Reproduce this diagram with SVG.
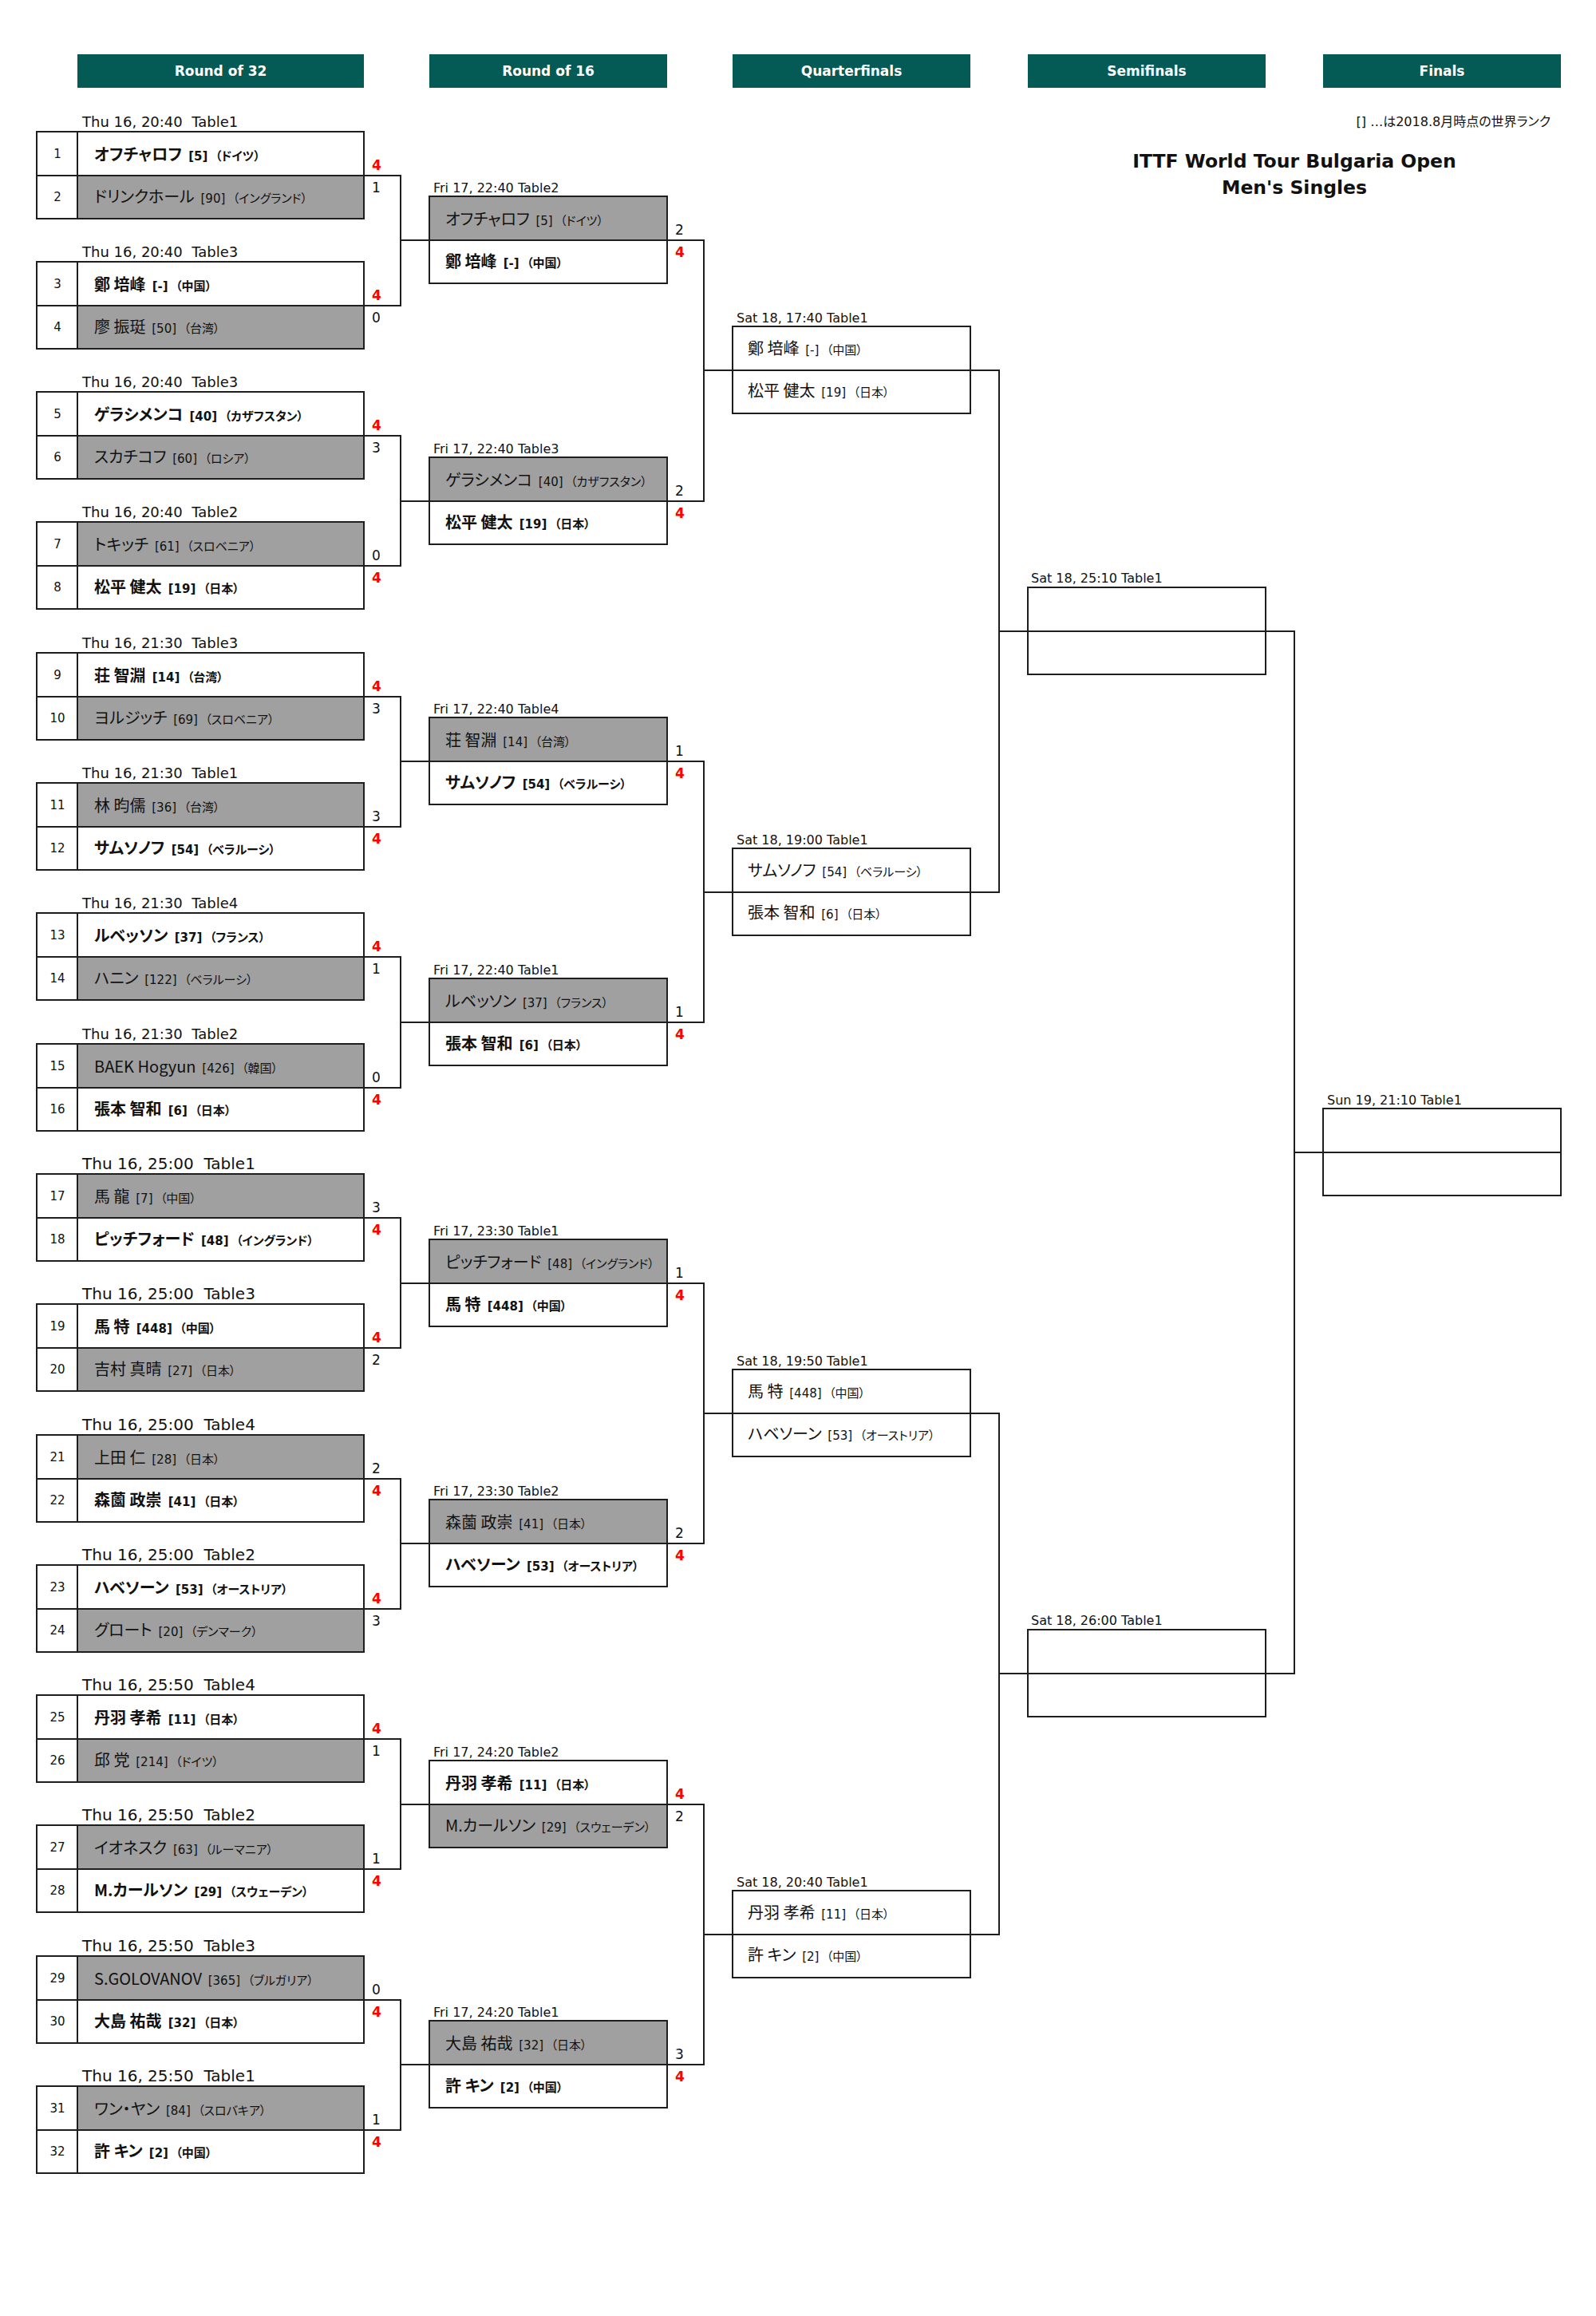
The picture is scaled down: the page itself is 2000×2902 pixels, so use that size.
<svg xmlns="http://www.w3.org/2000/svg" width="2000" height="2902" viewBox="0 0 2000 2902">
<style>
text{fill:#111}
.hd{fill:#045a55}
.ht{font-family:"DejaVu Sans",Verdana,sans-serif;font-weight:bold;font-size:17px;fill:#fff;text-anchor:middle}
.bx{fill:none;stroke:#1e1e1e;stroke-width:2}
.ls{fill:#a0a0a0}
.cn{fill:none;stroke:#1e1e1e;stroke-width:2}
.dt{font-family:"DejaVu Sans",Verdana,sans-serif;font-size:16px}
.d18{font-size:18px}
.d20{font-size:20px}
.no{font-family:"DejaVu Sans",Verdana,sans-serif;font-size:15px;text-anchor:middle}
.pl{font-family:"Noto Sans CJK JP",sans-serif;font-size:20px;font-feature-settings:"palt"}
.rk{font-family:"DejaVu Sans","Noto Sans CJK JP",sans-serif;font-size:15px}
.ct{font-family:"Noto Sans CJK JP",sans-serif;font-size:15px;font-feature-settings:"palt"}
.w{font-weight:bold}
.sc{font-family:"DejaVu Sans",Verdana,sans-serif;font-size:17px}
.sw{fill:#f00;font-weight:bold}
.tt{font-family:"DejaVu Sans",Verdana,sans-serif;font-weight:bold;font-size:23.5px;text-anchor:middle}
.nt{font-family:"DejaVu Sans","Noto Sans CJK JP",sans-serif;font-size:16px;text-anchor:end;font-feature-settings:"palt"}
</style>
<rect width="2000" height="2902" fill="#fff"/>

<g id="headers">
<rect class="hd" x="97" y="68" width="359" height="42"/><text class="ht" x="276.5" y="95">Round of 32</text>
<rect class="hd" x="538" y="68" width="298" height="42"/><text class="ht" x="687" y="95">Round of 16</text>
<rect class="hd" x="918" y="68" width="298" height="42"/><text class="ht" x="1067" y="95">Quarterfinals</text>
<rect class="hd" x="1288" y="68" width="298" height="42"/><text class="ht" x="1437" y="95">Semifinals</text>
<rect class="hd" x="1658" y="68" width="298" height="42"/><text class="ht" x="1807" y="95">Finals</text>
</g>
<g id="title">
<text class="nt" x="1943" y="158">[] …は2018.8月時点の世界ランク</text>
<text class="tt" x="1622" y="210">ITTF World Tour Bulgaria Open</text>
<text class="tt" x="1622" y="243">Men's Singles</text>
</g>

<g id="connectors">
<path class="cn" d="M456 220H502V383H456M502 301H538M456 546H502V709H456M502 628H538M456 873H502V1036H456M502 954H538M456 1199H502V1363H456M502 1281H538M456 1526H502V1689H456M502 1608H538M456 1853H502V2016H456M502 1934H538M456 2179H502V2342H456M502 2261H538M456 2506H502V2669H456M502 2587H538"/>
<path class="cn" d="M836 301H882V628H836M882 464H918M836 954H882V1281H836M882 1118H918M836 1608H882V1934H836M882 1771H918M836 2261H882V2587H836M882 2424H918"/>
<path class="cn" d="M1216 464H1252V1118H1216M1252 791H1288M1216 1771H1252V2424H1216M1252 2097H1288"/>
<path class="cn" d="M1586 791H1622V2097H1586M1622 1444H1658"/>
</g>

<!-- Round of 32 -->
<g id="r32-m1">
<text class="dt d18" x="103" y="159" xml:space="preserve">Thu 16, 20:40  Table1</text>
<rect class="ls" x="97" y="220" width="359" height="54"/>
<path class="bx" d="M46 165h410v109h-410zM46 220h410M97 165v109"/>
<text class="no" x="72" y="198">1</text><text class="no" x="72" y="252">2</text>
<text class="pl w" x="118" y="201">オフチャロフ<tspan class="rk" dx="3"> [5]</tspan><tspan class="ct" dx="6"> （ドイツ）</tspan></text>
<text class="pl" x="118" y="254">ドリンクホール<tspan class="rk" dx="3"> [90]</tspan><tspan class="ct" dx="6"> （イングランド）</tspan></text>
<text class="sc sw" x="466" y="213">4</text><text class="sc" x="466" y="241">1</text>
</g>
<g id="r32-m2">
<text class="dt d18" x="103" y="322" xml:space="preserve">Thu 16, 20:40  Table3</text>
<rect class="ls" x="97" y="383" width="359" height="54"/>
<path class="bx" d="M46 328h410v109h-410zM46 383h410M97 328v109"/>
<text class="no" x="72" y="361">3</text><text class="no" x="72" y="415">4</text>
<text class="pl w" x="118" y="364">鄭 培峰<tspan class="rk" dx="3"> [-]</tspan><tspan class="ct" dx="6"> （中国）</tspan></text>
<text class="pl" x="118" y="417">廖 振珽<tspan class="rk" dx="3"> [50]</tspan><tspan class="ct" dx="6"> （台湾）</tspan></text>
<text class="sc sw" x="466" y="376">4</text><text class="sc" x="466" y="404">0</text>
</g>
<g id="r32-m3">
<text class="dt d18" x="103" y="485" xml:space="preserve">Thu 16, 20:40  Table3</text>
<rect class="ls" x="97" y="546" width="359" height="54"/>
<path class="bx" d="M46 491h410v109h-410zM46 546h410M97 491v109"/>
<text class="no" x="72" y="524">5</text><text class="no" x="72" y="578">6</text>
<text class="pl w" x="118" y="527">ゲラシメンコ<tspan class="rk" dx="3"> [40]</tspan><tspan class="ct" dx="6"> （カザフスタン）</tspan></text>
<text class="pl" x="118" y="580">スカチコフ<tspan class="rk" dx="3"> [60]</tspan><tspan class="ct" dx="6"> （ロシア）</tspan></text>
<text class="sc sw" x="466" y="539">4</text><text class="sc" x="466" y="567">3</text>
</g>
<g id="r32-m4">
<text class="dt d18" x="103" y="648" xml:space="preserve">Thu 16, 20:40  Table2</text>
<rect class="ls" x="97" y="654" width="359" height="55"/>
<path class="bx" d="M46 654h410v109h-410zM46 709h410M97 654v109"/>
<text class="no" x="72" y="687">7</text><text class="no" x="72" y="741">8</text>
<text class="pl" x="118" y="690">トキッチ<tspan class="rk" dx="3"> [61]</tspan><tspan class="ct" dx="6"> （スロベニア）</tspan></text>
<text class="pl w" x="118" y="743">松平 健太<tspan class="rk" dx="3"> [19]</tspan><tspan class="ct" dx="6"> （日本）</tspan></text>
<text class="sc" x="466" y="702">0</text><text class="sc sw" x="466" y="730">4</text>
</g>
<g id="r32-m5">
<text class="dt d18" x="103" y="812" xml:space="preserve">Thu 16, 21:30  Table3</text>
<rect class="ls" x="97" y="873" width="359" height="54"/>
<path class="bx" d="M46 818h410v109h-410zM46 873h410M97 818v109"/>
<text class="no" x="72" y="851">9</text><text class="no" x="72" y="905">10</text>
<text class="pl w" x="118" y="854">荘 智淵<tspan class="rk" dx="3"> [14]</tspan><tspan class="ct" dx="6"> （台湾）</tspan></text>
<text class="pl" x="118" y="907">ヨルジッチ<tspan class="rk" dx="3"> [69]</tspan><tspan class="ct" dx="6"> （スロベニア）</tspan></text>
<text class="sc sw" x="466" y="866">4</text><text class="sc" x="466" y="894">3</text>
</g>
<g id="r32-m6">
<text class="dt d18" x="103" y="975" xml:space="preserve">Thu 16, 21:30  Table1</text>
<rect class="ls" x="97" y="981" width="359" height="55"/>
<path class="bx" d="M46 981h410v109h-410zM46 1036h410M97 981v109"/>
<text class="no" x="72" y="1014">11</text><text class="no" x="72" y="1068">12</text>
<text class="pl" x="118" y="1017">林 昀儒<tspan class="rk" dx="3"> [36]</tspan><tspan class="ct" dx="6"> （台湾）</tspan></text>
<text class="pl w" x="118" y="1070">サムソノフ<tspan class="rk" dx="3"> [54]</tspan><tspan class="ct" dx="6"> （ベラルーシ）</tspan></text>
<text class="sc" x="466" y="1029">3</text><text class="sc sw" x="466" y="1057">4</text>
</g>
<g id="r32-m7">
<text class="dt d18" x="103" y="1138" xml:space="preserve">Thu 16, 21:30  Table4</text>
<rect class="ls" x="97" y="1199" width="359" height="54"/>
<path class="bx" d="M46 1144h410v109h-410zM46 1199h410M97 1144v109"/>
<text class="no" x="72" y="1177">13</text><text class="no" x="72" y="1231">14</text>
<text class="pl w" x="118" y="1180">ルベッソン<tspan class="rk" dx="3"> [37]</tspan><tspan class="ct" dx="6"> （フランス）</tspan></text>
<text class="pl" x="118" y="1233">ハニン<tspan class="rk" dx="3"> [122]</tspan><tspan class="ct" dx="6"> （ベラルーシ）</tspan></text>
<text class="sc sw" x="466" y="1192">4</text><text class="sc" x="466" y="1220">1</text>
</g>
<g id="r32-m8">
<text class="dt d18" x="103" y="1302" xml:space="preserve">Thu 16, 21:30  Table2</text>
<rect class="ls" x="97" y="1308" width="359" height="55"/>
<path class="bx" d="M46 1308h410v109h-410zM46 1363h410M97 1308v109"/>
<text class="no" x="72" y="1341">15</text><text class="no" x="72" y="1395">16</text>
<text class="pl" x="118" y="1344">BAEK Hogyun<tspan class="rk" dx="3"> [426]</tspan><tspan class="ct" dx="6"> （韓国）</tspan></text>
<text class="pl w" x="118" y="1397">張本 智和<tspan class="rk" dx="3"> [6]</tspan><tspan class="ct" dx="6"> （日本）</tspan></text>
<text class="sc" x="466" y="1356">0</text><text class="sc sw" x="466" y="1384">4</text>
</g>
<g id="r32-m9">
<text class="dt d20" x="103" y="1465" xml:space="preserve">Thu 16, 25:00  Table1</text>
<rect class="ls" x="97" y="1471" width="359" height="55"/>
<path class="bx" d="M46 1471h410v109h-410zM46 1526h410M97 1471v109"/>
<text class="no" x="72" y="1504">17</text><text class="no" x="72" y="1558">18</text>
<text class="pl" x="118" y="1507">馬 龍<tspan class="rk" dx="3"> [7]</tspan><tspan class="ct" dx="6"> （中国）</tspan></text>
<text class="pl w" x="118" y="1560">ピッチフォード<tspan class="rk" dx="3"> [48]</tspan><tspan class="ct" dx="6"> （イングランド）</tspan></text>
<text class="sc" x="466" y="1519">3</text><text class="sc sw" x="466" y="1547">4</text>
</g>
<g id="r32-m10">
<text class="dt d20" x="103" y="1628" xml:space="preserve">Thu 16, 25:00  Table3</text>
<rect class="ls" x="97" y="1689" width="359" height="54"/>
<path class="bx" d="M46 1634h410v109h-410zM46 1689h410M97 1634v109"/>
<text class="no" x="72" y="1667">19</text><text class="no" x="72" y="1721">20</text>
<text class="pl w" x="118" y="1670">馬 特<tspan class="rk" dx="3"> [448]</tspan><tspan class="ct" dx="6"> （中国）</tspan></text>
<text class="pl" x="118" y="1723">吉村 真晴<tspan class="rk" dx="3"> [27]</tspan><tspan class="ct" dx="6"> （日本）</tspan></text>
<text class="sc sw" x="466" y="1682">4</text><text class="sc" x="466" y="1710">2</text>
</g>
<g id="r32-m11">
<text class="dt d20" x="103" y="1792" xml:space="preserve">Thu 16, 25:00  Table4</text>
<rect class="ls" x="97" y="1798" width="359" height="55"/>
<path class="bx" d="M46 1798h410v109h-410zM46 1853h410M97 1798v109"/>
<text class="no" x="72" y="1831">21</text><text class="no" x="72" y="1885">22</text>
<text class="pl" x="118" y="1834">上田 仁<tspan class="rk" dx="3"> [28]</tspan><tspan class="ct" dx="6"> （日本）</tspan></text>
<text class="pl w" x="118" y="1887">森薗 政崇<tspan class="rk" dx="3"> [41]</tspan><tspan class="ct" dx="6"> （日本）</tspan></text>
<text class="sc" x="466" y="1846">2</text><text class="sc sw" x="466" y="1874">4</text>
</g>
<g id="r32-m12">
<text class="dt d20" x="103" y="1955" xml:space="preserve">Thu 16, 25:00  Table2</text>
<rect class="ls" x="97" y="2016" width="359" height="54"/>
<path class="bx" d="M46 1961h410v109h-410zM46 2016h410M97 1961v109"/>
<text class="no" x="72" y="1994">23</text><text class="no" x="72" y="2048">24</text>
<text class="pl w" x="118" y="1997">ハベソーン<tspan class="rk" dx="3"> [53]</tspan><tspan class="ct" dx="6"> （オーストリア）</tspan></text>
<text class="pl" x="118" y="2050">グロート<tspan class="rk" dx="3"> [20]</tspan><tspan class="ct" dx="6"> （デンマーク）</tspan></text>
<text class="sc sw" x="466" y="2009">4</text><text class="sc" x="466" y="2037">3</text>
</g>
<g id="r32-m13">
<text class="dt d20" x="103" y="2118" xml:space="preserve">Thu 16, 25:50  Table4</text>
<rect class="ls" x="97" y="2179" width="359" height="54"/>
<path class="bx" d="M46 2124h410v109h-410zM46 2179h410M97 2124v109"/>
<text class="no" x="72" y="2157">25</text><text class="no" x="72" y="2211">26</text>
<text class="pl w" x="118" y="2160">丹羽 孝希<tspan class="rk" dx="3"> [11]</tspan><tspan class="ct" dx="6"> （日本）</tspan></text>
<text class="pl" x="118" y="2213">邱 党<tspan class="rk" dx="3"> [214]</tspan><tspan class="ct" dx="6"> （ドイツ）</tspan></text>
<text class="sc sw" x="466" y="2172">4</text><text class="sc" x="466" y="2200">1</text>
</g>
<g id="r32-m14">
<text class="dt d20" x="103" y="2281" xml:space="preserve">Thu 16, 25:50  Table2</text>
<rect class="ls" x="97" y="2287" width="359" height="55"/>
<path class="bx" d="M46 2287h410v109h-410zM46 2342h410M97 2287v109"/>
<text class="no" x="72" y="2320">27</text><text class="no" x="72" y="2374">28</text>
<text class="pl" x="118" y="2323">イオネスク<tspan class="rk" dx="3"> [63]</tspan><tspan class="ct" dx="6"> （ルーマニア）</tspan></text>
<text class="pl w" x="118" y="2376">M.カールソン<tspan class="rk" dx="3"> [29]</tspan><tspan class="ct" dx="6"> （スウェーデン）</tspan></text>
<text class="sc" x="466" y="2335">1</text><text class="sc sw" x="466" y="2363">4</text>
</g>
<g id="r32-m15">
<text class="dt d20" x="103" y="2445" xml:space="preserve">Thu 16, 25:50  Table3</text>
<rect class="ls" x="97" y="2451" width="359" height="55"/>
<path class="bx" d="M46 2451h410v109h-410zM46 2506h410M97 2451v109"/>
<text class="no" x="72" y="2484">29</text><text class="no" x="72" y="2538">30</text>
<text class="pl" x="118" y="2487">S.GOLOVANOV<tspan class="rk" dx="3"> [365]</tspan><tspan class="ct" dx="6"> （ブルガリア）</tspan></text>
<text class="pl w" x="118" y="2540">大島 祐哉<tspan class="rk" dx="3"> [32]</tspan><tspan class="ct" dx="6"> （日本）</tspan></text>
<text class="sc" x="466" y="2499">0</text><text class="sc sw" x="466" y="2527">4</text>
</g>
<g id="r32-m16">
<text class="dt d20" x="103" y="2608" xml:space="preserve">Thu 16, 25:50  Table1</text>
<rect class="ls" x="97" y="2614" width="359" height="55"/>
<path class="bx" d="M46 2614h410v109h-410zM46 2669h410M97 2614v109"/>
<text class="no" x="72" y="2647">31</text><text class="no" x="72" y="2701">32</text>
<text class="pl" x="118" y="2650">ワン・ヤン<tspan class="rk" dx="3"> [84]</tspan><tspan class="ct" dx="6"> （スロバキア）</tspan></text>
<text class="pl w" x="118" y="2703">許 キン<tspan class="rk" dx="3"> [2]</tspan><tspan class="ct" dx="6"> （中国）</tspan></text>
<text class="sc" x="466" y="2662">1</text><text class="sc sw" x="466" y="2690">4</text>
</g>

<!-- Round of 16 -->
<g id="r16-m1">
<text class="dt" x="543" y="241">Fri 17, 22:40 Table2</text>
<rect class="ls" x="538" y="246" width="298" height="55"/>
<path class="bx" d="M538 246h298v109h-298zM538 301h298"/>
<text class="pl" x="558" y="282">オフチャロフ<tspan class="rk" dx="3"> [5]</tspan><tspan class="ct" dx="6"> （ドイツ）</tspan></text>
<text class="pl w" x="558" y="335">鄭 培峰<tspan class="rk" dx="3"> [-]</tspan><tspan class="ct" dx="6"> （中国）</tspan></text>
<text class="sc" x="846" y="294">2</text><text class="sc sw" x="846" y="322">4</text>
</g>
<g id="r16-m2">
<text class="dt" x="543" y="568">Fri 17, 22:40 Table3</text>
<rect class="ls" x="538" y="573" width="298" height="55"/>
<path class="bx" d="M538 573h298v109h-298zM538 628h298"/>
<text class="pl" x="558" y="609">ゲラシメンコ<tspan class="rk" dx="3"> [40]</tspan><tspan class="ct" dx="6"> （カザフスタン）</tspan></text>
<text class="pl w" x="558" y="662">松平 健太<tspan class="rk" dx="3"> [19]</tspan><tspan class="ct" dx="6"> （日本）</tspan></text>
<text class="sc" x="846" y="621">2</text><text class="sc sw" x="846" y="649">4</text>
</g>
<g id="r16-m3">
<text class="dt" x="543" y="894">Fri 17, 22:40 Table4</text>
<rect class="ls" x="538" y="899" width="298" height="55"/>
<path class="bx" d="M538 899h298v109h-298zM538 954h298"/>
<text class="pl" x="558" y="935">荘 智淵<tspan class="rk" dx="3"> [14]</tspan><tspan class="ct" dx="6"> （台湾）</tspan></text>
<text class="pl w" x="558" y="988">サムソノフ<tspan class="rk" dx="3"> [54]</tspan><tspan class="ct" dx="6"> （ベラルーシ）</tspan></text>
<text class="sc" x="846" y="947">1</text><text class="sc sw" x="846" y="975">4</text>
</g>
<g id="r16-m4">
<text class="dt" x="543" y="1221">Fri 17, 22:40 Table1</text>
<rect class="ls" x="538" y="1226" width="298" height="55"/>
<path class="bx" d="M538 1226h298v109h-298zM538 1281h298"/>
<text class="pl" x="558" y="1262">ルベッソン<tspan class="rk" dx="3"> [37]</tspan><tspan class="ct" dx="6"> （フランス）</tspan></text>
<text class="pl w" x="558" y="1315">張本 智和<tspan class="rk" dx="3"> [6]</tspan><tspan class="ct" dx="6"> （日本）</tspan></text>
<text class="sc" x="846" y="1274">1</text><text class="sc sw" x="846" y="1302">4</text>
</g>
<g id="r16-m5">
<text class="dt" x="543" y="1548">Fri 17, 23:30 Table1</text>
<rect class="ls" x="538" y="1553" width="298" height="55"/>
<path class="bx" d="M538 1553h298v109h-298zM538 1608h298"/>
<text class="pl" x="558" y="1589">ピッチフォード<tspan class="rk" dx="3"> [48]</tspan><tspan class="ct" dx="6"> （イングランド）</tspan></text>
<text class="pl w" x="558" y="1642">馬 特<tspan class="rk" dx="3"> [448]</tspan><tspan class="ct" dx="6"> （中国）</tspan></text>
<text class="sc" x="846" y="1601">1</text><text class="sc sw" x="846" y="1629">4</text>
</g>
<g id="r16-m6">
<text class="dt" x="543" y="1874">Fri 17, 23:30 Table2</text>
<rect class="ls" x="538" y="1879" width="298" height="55"/>
<path class="bx" d="M538 1879h298v109h-298zM538 1934h298"/>
<text class="pl" x="558" y="1915">森薗 政崇<tspan class="rk" dx="3"> [41]</tspan><tspan class="ct" dx="6"> （日本）</tspan></text>
<text class="pl w" x="558" y="1968">ハベソーン<tspan class="rk" dx="3"> [53]</tspan><tspan class="ct" dx="6"> （オーストリア）</tspan></text>
<text class="sc" x="846" y="1927">2</text><text class="sc sw" x="846" y="1955">4</text>
</g>
<g id="r16-m7">
<text class="dt" x="543" y="2201">Fri 17, 24:20 Table2</text>
<rect class="ls" x="538" y="2261" width="298" height="54"/>
<path class="bx" d="M538 2206h298v109h-298zM538 2261h298"/>
<text class="pl w" x="558" y="2242">丹羽 孝希<tspan class="rk" dx="3"> [11]</tspan><tspan class="ct" dx="6"> （日本）</tspan></text>
<text class="pl" x="558" y="2295">M.カールソン<tspan class="rk" dx="3"> [29]</tspan><tspan class="ct" dx="6"> （スウェーデン）</tspan></text>
<text class="sc sw" x="846" y="2254">4</text><text class="sc" x="846" y="2282">2</text>
</g>
<g id="r16-m8">
<text class="dt" x="543" y="2527">Fri 17, 24:20 Table1</text>
<rect class="ls" x="538" y="2532" width="298" height="55"/>
<path class="bx" d="M538 2532h298v109h-298zM538 2587h298"/>
<text class="pl" x="558" y="2568">大島 祐哉<tspan class="rk" dx="3"> [32]</tspan><tspan class="ct" dx="6"> （日本）</tspan></text>
<text class="pl w" x="558" y="2621">許 キン<tspan class="rk" dx="3"> [2]</tspan><tspan class="ct" dx="6"> （中国）</tspan></text>
<text class="sc" x="846" y="2580">3</text><text class="sc sw" x="846" y="2608">4</text>
</g>

<!-- Quarterfinals -->
<g id="qf-m1">
<text class="dt" x="923" y="404">Sat 18, 17:40 Table1</text>
<path class="bx" d="M918 409h298v109h-298zM918 464h298"/>
<text class="pl" x="937" y="444">鄭 培峰<tspan class="rk" dx="3"> [-]</tspan><tspan class="ct" dx="6"> （中国）</tspan></text>
<text class="pl" x="937" y="497">松平 健太<tspan class="rk" dx="3"> [19]</tspan><tspan class="ct" dx="6"> （日本）</tspan></text>
</g>
<g id="qf-m2">
<text class="dt" x="923" y="1058">Sat 18, 19:00 Table1</text>
<path class="bx" d="M918 1063h298v109h-298zM918 1118h298"/>
<text class="pl" x="937" y="1098">サムソノフ<tspan class="rk" dx="3"> [54]</tspan><tspan class="ct" dx="6"> （ベラルーシ）</tspan></text>
<text class="pl" x="937" y="1151">張本 智和<tspan class="rk" dx="3"> [6]</tspan><tspan class="ct" dx="6"> （日本）</tspan></text>
</g>
<g id="qf-m3">
<text class="dt" x="923" y="1711">Sat 18, 19:50 Table1</text>
<path class="bx" d="M918 1716h298v109h-298zM918 1771h298"/>
<text class="pl" x="937" y="1751">馬 特<tspan class="rk" dx="3"> [448]</tspan><tspan class="ct" dx="6"> （中国）</tspan></text>
<text class="pl" x="937" y="1804">ハベソーン<tspan class="rk" dx="3"> [53]</tspan><tspan class="ct" dx="6"> （オーストリア）</tspan></text>
</g>
<g id="qf-m4">
<text class="dt" x="923" y="2364">Sat 18, 20:40 Table1</text>
<path class="bx" d="M918 2369h298v109h-298zM918 2424h298"/>
<text class="pl" x="937" y="2404">丹羽 孝希<tspan class="rk" dx="3"> [11]</tspan><tspan class="ct" dx="6"> （日本）</tspan></text>
<text class="pl" x="937" y="2457">許 キン<tspan class="rk" dx="3"> [2]</tspan><tspan class="ct" dx="6"> （中国）</tspan></text>
</g>

<!-- Semifinals -->
<g id="sf-m1">
<text class="dt" x="1292" y="730">Sat 18, 25:10 Table1</text>
<path class="bx" d="M1288 736h298v109h-298zM1288 791h298"/>
</g>
<g id="sf-m2">
<text class="dt" x="1292" y="2036">Sat 18, 26:00 Table1</text>
<path class="bx" d="M1288 2042h298v109h-298zM1288 2097h298"/>
</g>

<!-- Final -->
<g id="final">
<text class="dt" x="1663" y="1384">Sun 19, 21:10 Table1</text>
<path class="bx" d="M1658 1389h298v109h-298zM1658 1444h298"/>
</g>
</svg>
